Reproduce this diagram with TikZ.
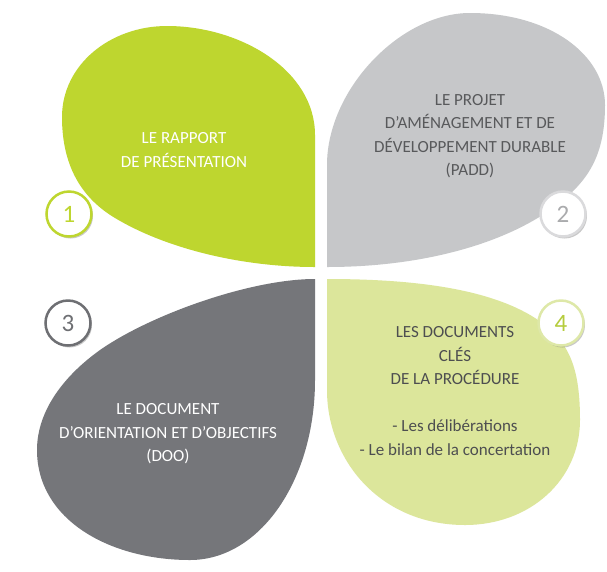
\documentclass[tikz,border=0pt]{standalone}
\usepackage{fontspec}
\setmainfont{Carlito}
\usepackage{tikz}
\usetikzlibrary{shadows}

\begin{document}
\begin{tikzpicture}[x=1pt,y=1pt,yscale=-1,xscale=1,
    lbl/.style={align=center,inner sep=0.75pt,font=\fontsize{17}{23.5}\selectfont},
    num/.style={circle,fill=white,line width=2.5pt,minimum size=45pt,inner sep=0pt,
      font=\fontsize{25}{25}\selectfont,
      drop shadow={shadow xshift=1.5pt,shadow yshift=-2pt,opacity=0.3,fill=black!70}}]
% Background
\fill [white] (0,0) rectangle (607,571);
\useasboundingbox (0,0) rectangle (607,571);
% Shape: petal 1
\fill [color={rgb, 255:red, 190; green, 214; blue, 47 }] (315,267) -- (315,135) .. controls (315,70) and (240,26) .. (167,26) .. controls (110,26) and (62,65) .. (62,117) .. controls (62,170) and (85,200) .. (115,218) .. controls (165,248) and (240,267) .. (315,267) -- cycle;
% Shape: petal 2
\fill [color={rgb, 255:red, 198; green, 199; blue, 201 }] (327,267) -- (327,165) .. controls (327,90) and (400,13) .. (470,13) .. controls (550,13) and (605,55) .. (605,105) .. controls (605,160) and (585,185) .. (550,210) .. controls (500,245) and (420,267) .. (327,267) -- cycle;
% Shape: petal 3
\fill [color={rgb, 255:red, 117; green, 118; blue, 122 }] (315,279) -- (315,380) .. controls (315,480) and (260,560) .. (190,560) .. controls (110,560) and (37,520) .. (37,450) .. controls (37,410) and (65,375) .. (100,350) .. controls (150,315) and (250,279) .. (315,279) -- cycle;
% Shape: petal 4
\fill [color={rgb, 255:red, 220; green, 230; blue, 155 }] (327,279) -- (327,390) .. controls (327,460) and (380,525) .. (465,525) .. controls (530,525) and (580,480) .. (580,420) .. controls (580,370) and (570,345) .. (545,325) .. controls (500,290) and (420,279) .. (327,279) -- cycle;
% Text Node
\draw (184,150) node (rapport) [lbl] [color=white] {LE RAPPORT\\DE PRÉSENTATION};
% Text Node
\draw (470,136) node (padd) [lbl] [color={rgb, 255:red, 88; green, 89; blue, 91 }] {LE PROJET\\D’AMÉNAGEMENT ET DE\\DÉVELOPPEMENT DURABLE\\(PADD)};
% Text Node
\draw (168,434) node (doo) [lbl] [color=white] {LE DOCUMENT\\D’ORIENTATION ET D’OBJECTIFS\\(DOO)};
% Text Node
\draw (455,391) node (cles) [lbl] [color={rgb, 255:red, 77; green, 78; blue, 80 }] {LES DOCUMENTS\\CLÉS\\DE LA PROCÉDURE\\[23.5pt]- Les délibérations\\- Le bilan de la concertation};
% Number Nodes
\draw (69,214) node (n1) [num] [draw={rgb, 255:red, 190; green, 214; blue, 47 }, text={rgb, 255:red, 190; green, 214; blue, 47 }] {1};
\draw (563,214) node (n2) [num] [draw={rgb, 255:red, 218; green, 218; blue, 220 }, text={rgb, 255:red, 170; green, 171; blue, 173 }] {2};
\draw (68,323) node (n3) [num] [draw={rgb, 255:red, 110; green, 111; blue, 115 }, text={rgb, 255:red, 110; green, 111; blue, 115 }] {3};
\draw (561,323) node (n4) [num] [draw={rgb, 255:red, 222; green, 232; blue, 168 }, text={rgb, 255:red, 181; green, 204; blue, 60 }] {4};
\end{tikzpicture}
\end{document}
